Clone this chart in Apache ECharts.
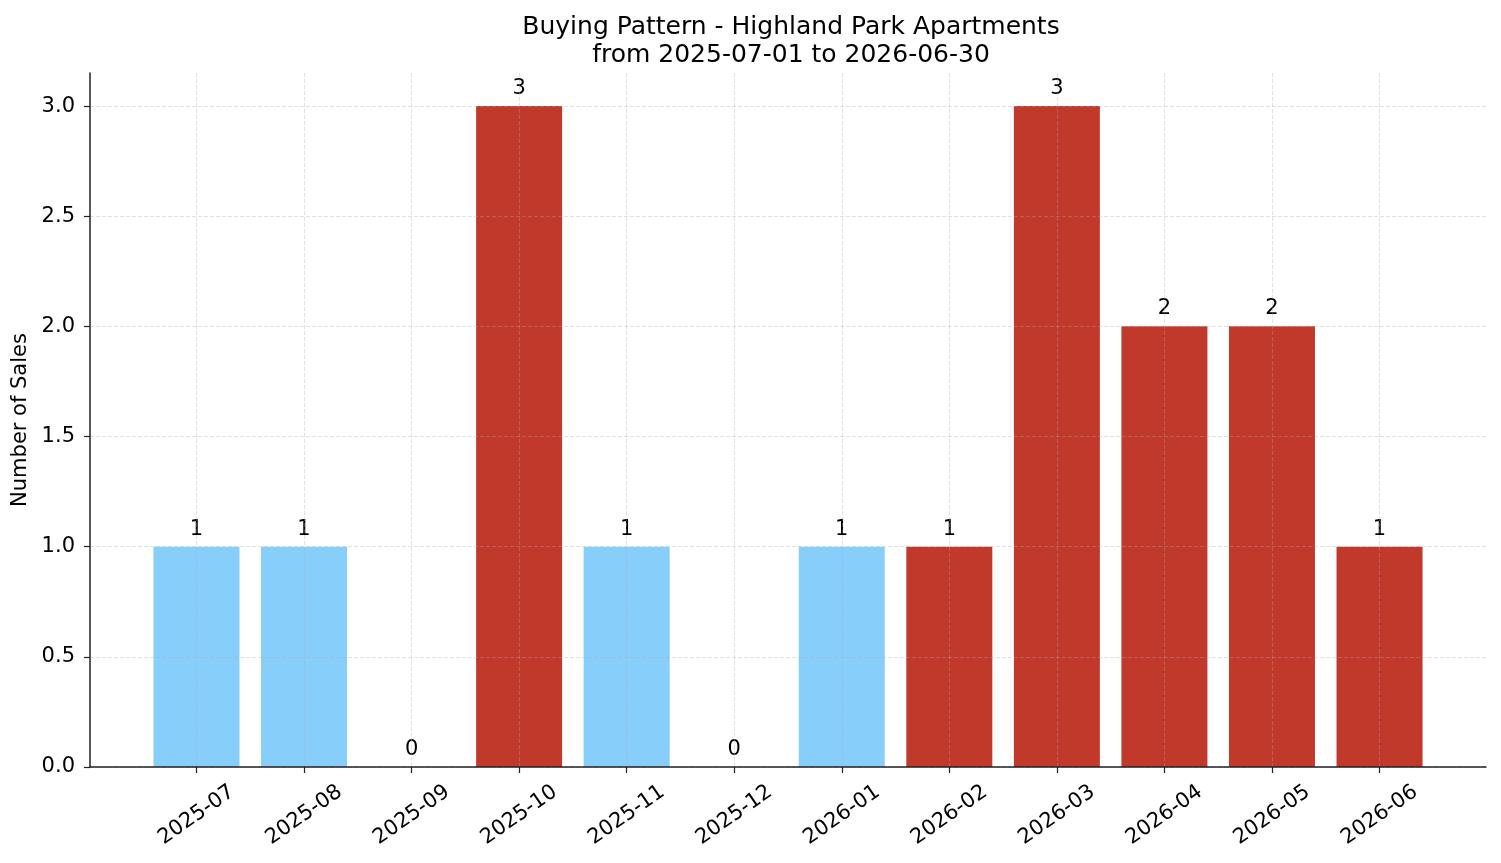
<!DOCTYPE html>
<html>
<head>
<meta charset="utf-8">
<title>Buying Pattern</title>
<script src="https://cdn.jsdelivr.net/npm/echarts@6/dist/echarts.min.js"></script>
<style>
  html, body { margin: 0; padding: 0; background: #fff; }
  #chart { width: 1501px; height: 863px; }
</style>
</head>
<body>
<div id="chart"></div>
<script>
// data
const months = ['2025-07', '2025-08', '2025-09', '2025-10', '2025-11', '2025-12',
  '2026-01', '2026-02', '2026-03', '2026-04', '2026-05', '2026-06']
const sales = [1, 1, 0, 3, 1, 0, 1, 1, 3, 2, 2, 1]
// which months are drawn in the red colour
const highlighted = [false, false, false, true, false, false, false, true, true, true, true, true]
const yTicks = [0, 0.5, 1, 1.5, 2, 2.5, 3]

const FONT = 'DejaVu Sans'
const BLUE = '#87CEFA'
const RED = '#C0392B'
const AXIS = '#222'
const gridLine = { show: true, lineStyle: { color: 'rgba(170,170,170,0.45)', width: 0.8, type: [4, 2] } }

const xIdx = months.map((m, i) => i)
const barData = sales.map((v, i) => ({
  value: [i, v],
  itemStyle: { color: highlighted[i] ? RED : BLUE }
}))

const chart = echarts.init(document.getElementById('chart'))
chart.setOption({
  animation: false,
  textStyle: { fontFamily: FONT },
  title: {
    text: 'Buying Pattern - Highland Park Apartments\nfrom 2025-07-01 to 2026-06-30',
    left: 786,
    textAlign: 'center',
    top: 8,
    textStyle: { fontFamily: FONT, fontSize: 25, fontWeight: 'normal', color: '#000', lineHeight: 28 }
  },
  grid: { left: 90, right: 15, top: 73, bottom: 96, containLabel: false, outerBoundsMode: 'none' },
  xAxis: {
    type: 'value',
    min: -0.99,
    max: 11.99,
    z: 3,
    axisLine: { show: true, onZero: false, lineStyle: { color: AXIS, width: 1.5 } },
    axisTick: { show: true, length: 6, customValues: xIdx, lineStyle: { color: AXIS, width: 1.2 } },
    axisLabel: {
      customValues: xIdx,
      formatter: v => months[Math.round(v)],
      rotate: 35,
      align: 'center',
      verticalAlign: 'middle',
      margin: 48,
      fontSize: 21,
      color: '#000',
      fontFamily: FONT
    },
    splitLine: gridLine
  },
  yAxis: {
    type: 'value',
    min: 0,
    max: 3.15,
    z: 3,
    name: 'Number of Sales',
    nameLocation: 'middle',
    nameRotate: 90,
    nameGap: 56,
    nameTextStyle: { fontSize: 21, color: '#000', fontFamily: FONT },
    axisLine: { show: true, onZero: false, lineStyle: { color: AXIS, width: 1.5 } },
    axisTick: { show: true, length: 6, customValues: yTicks, lineStyle: { color: AXIS, width: 1.2 } },
    axisLabel: {
      customValues: yTicks,
      formatter: v => v.toFixed(1),
      margin: 15,
      fontSize: 21,
      color: '#000',
      fontFamily: FONT
    },
    splitLine: gridLine
  },
  series: [{
    type: 'bar',
    data: barData,
    barWidth: 86,
    label: {
      show: true,
      position: 'top',
      distance: 7,
      formatter: p => String(p.value[1]),
      fontSize: 21,
      color: '#000',
      fontFamily: FONT
    }
  }]
})
</script>
</body>
</html>
